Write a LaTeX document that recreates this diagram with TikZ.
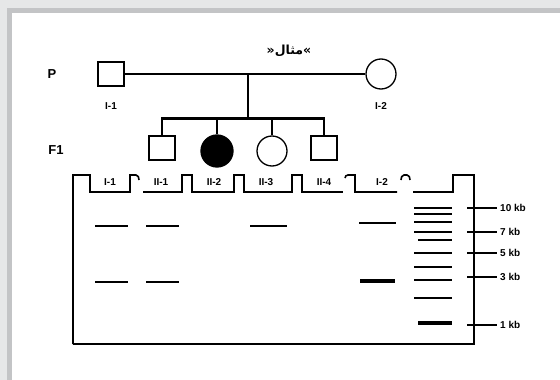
\documentclass[tikz,border=0pt]{standalone}
\usepackage{fontspec}
\setmainfont{Liberation Sans}
\newfontfamily\arabicfont[Script=Arabic]{DejaVu Sans}
\TeXXeTstate=1
\usepackage{xcolor}
\usepackage{tikz}
\usetikzlibrary{positioning}

\definecolor{panelgrey}{HTML}{E6E7E8}
\definecolor{bordergrey}{HTML}{C3C4C6}

\tikzset{
  male/.style={draw, line width=1.3pt, minimum width=26pt, minimum height=24pt, inner sep=0pt},
  female/.style={draw, circle, line width=1.3pt, minimum size=30pt, inner sep=0pt},
  gen/.style={font=\bfseries\fontsize{13}{13}\selectfont},
  lbl/.style={font=\bfseries\fontsize{10}{10}\selectfont, inner sep=1pt},
  kin/.style={line width=1.3pt},
  gel/.style={line width=1.6pt, line join=miter},
  band/.style={line width=1.8pt},
}

\begin{document}
\begin{tikzpicture}[x=1pt,y=-1pt]
% panel
\fill[panelgrey] (0,0) rectangle (560,380);
\fill[bordergrey] (7,8) rectangle (560,380);
\fill[white] (12,13) rectangle (560,380);
\useasboundingbox (0,0) rectangle (560,380);

\node[font=\arabicfont\bfseries\fontsize{12.5}{12.5}\selectfont] (title) at (289,51) {«\beginR مثال\endR»};

% generations
\node[gen] (genp) at (52,74) {P};
\node[gen] (genf) at (56,150) {F1};

% parents
\node[male] (i1) at (111,74) {};
\node[female] (i2) at (381,74) {};
\node[lbl] (i1lab) at (111,106) {I-1};
\node[lbl] (i2lab) at (381,106) {I-2};
\draw[kin] (i1) -- (i2);

% children
\node[male] (ii1) at (162,148) {};
\node[female, fill=black, minimum size=32pt] (ii2) at (217,151) {};
\node[female] (ii3) at (272,151) {};
\node[male] (ii4) at (324,148) {};

\coordinate (mate) at (248,74);
\coordinate (sib) at (248,118);
\draw[kin] (mate) -- (sib);
\draw[line width=3pt] ([xshift=-0.65pt]ii1 |- sib) -- ([xshift=0.65pt]ii4 |- sib);
\foreach \c in {ii1,ii3,ii4} \draw[kin] (\c |- sib) -- (\c);
\draw[line width=2.4pt] (ii2 |- sib) -- (ii2);

% gel outline
\draw[gel] (73,344) -- (73,175) -- (90,175) -- (90,192) -- (130,192) -- (130,175) -- (136,175) to[out=0,in=90] (139,180);
\draw[gel] (143,192) -- (182,192) -- (182,175) -- (192,175) -- (192,192) -- (234,192) -- (234,175) -- (244,175) -- (244,192)
  -- (292,192) -- (292,175) -- (302,175) -- (302,192) -- (343,192);
\draw[gel] (345,178) to[out=90,in=180] (348,175) -- (355,175) -- (355,192) -- (397,192);
\draw[gel] (401,180) to[out=90,in=180] (404,175) -- (407,175) to[out=0,in=90] (410,180);
\draw[gel] (413,192) -- (453,192) -- (453,175) -- (474,175) -- (474,344) -- (73,344);

% lane labels
\foreach \n/\x/\t in {l1/110/I-1, l2/161/II-1, l3/214/II-2, l4/266/II-3, l5/324/II-4, l6/382/I-2}
  \node[lbl] (\n) at (\x,182) {\t};

% bands
\foreach \a/\b/\y in {95/128/226, 146/179/226, 250/287/226, 359/396/223, 95/128/282, 146/179/282}
  \draw[band] (\a,\y) -- (\b,\y);
\draw[line width=3.6pt] (360,281) -- (395,281);

% ladder
\foreach \y in {208,214,222,232,253,267,280,298}
  \draw[band] (414,\y) -- (452,\y);
\draw[band] (418,240) -- (452,240);
\draw[line width=3.6pt] (418,323) -- (452,323);

% size marks
\foreach \y/\t in {208/10 kb, 232/7 kb, 253/5 kb, 277/3 kb, 325/1 kb} {
  \node[lbl, anchor=west, inner sep=3pt] (mk\y) at (497,\y) {\t};
  \draw[band] (467,\y) -- (mk\y.west);
}
\end{tikzpicture}
\end{document}
